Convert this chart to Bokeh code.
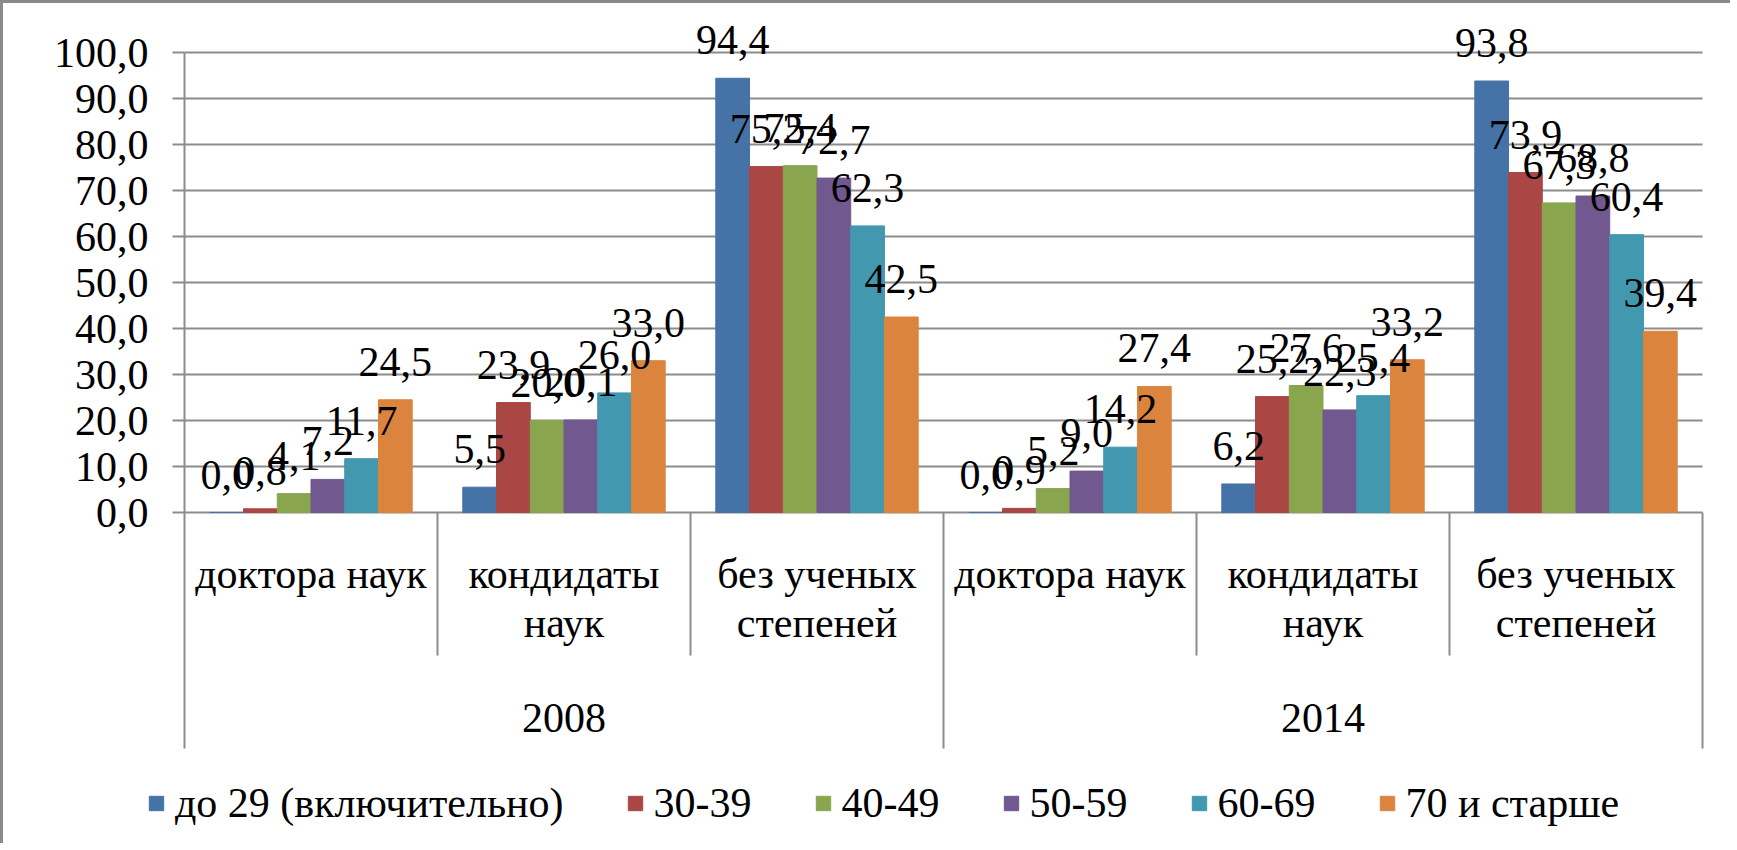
from bokeh.plotting import figure
from bokeh.models import Range1d, FixedTicker, Legend, LegendItem
from bokeh.embed import file_html
from bokeh.resources import INLINE
from bokeh.core.properties import value

# ---------------- data ----------------
years = ["2008", "2014"]
cat_line1 = ["доктора наук", "кондидаты", "без ученых", "доктора наук", "кондидаты", "без ученых"]
cat_line2 = ["", "наук", "степеней", "", "наук", "степеней"]
series_names = ["до 29 (включительно)", "30-39", "40-49", "50-59", "60-69", "70 и старше"]
s_upto29 = [0.0, 5.5, 94.4, 0.0, 6.2, 93.8]
s_30_39 = [0.8, 23.9, 75.2, 0.9, 25.2, 73.9]
s_40_49 = [4.1, 20.0, 75.4, 5.2, 27.6, 67.3]
s_50_59 = [7.2, 20.1, 72.7, 9.0, 22.3, 68.8]
s_60_69 = [11.7, 26.0, 62.3, 14.2, 25.4, 60.4]
s_70plus = [24.5, 33.0, 42.5, 27.4, 33.2, 39.4]
y_ticks = [0, 10, 20, 30, 40, 50, 60, 70, 80, 90, 100]
y_tick_labels = ["0,0", "10,0", "20,0", "30,0", "40,0", "50,0", "60,0", "70,0", "80,0", "90,0", "100,0"]

series = [s_upto29, s_30_39, s_40_49, s_50_59, s_60_69, s_70plus]
colors = ["#4572A7", "#AA4643", "#89A54E", "#71588F", "#4198AF", "#DB843D"]

FONT = "Liberation Serif"
FS = "42px"
GRID = "#8c8c8c"

# layout (page pixels)
W, H = 1730, 843
ORG = 3              # content origin after css border
X0_PX, CAT_PX = 184, 253
Y0_PX, PX = 512, 4.6

x_start = (ORG - X0_PX) / CAT_PX
x_end = x_start + W / CAT_PX
y_end = (Y0_PX - ORG) / PX
y_start = y_end - H / PX

p = figure(width=W, height=H, output_backend="svg", toolbar_location=None,
           x_axis_location=None, y_axis_location="left",
           x_range=Range1d(x_start, x_end), y_range=Range1d(y_start, y_end),
           min_border_left=0, min_border_right=0, min_border_top=0, min_border_bottom=0)
p.styles = {"border-left": "3px solid #8a8a8a", "border-top": "3px solid #8a8a8a"}
p.outline_line_color = None
p.background_fill_color = "white"
p.border_fill_color = "white"
p.xgrid.visible = False
p.ygrid.visible = False

AX_BOTTOM = -51.3
INNER_BOTTOM = -31.1

ax = p.yaxis[0]
ax.fixed_location = 0
ax.bounds = (AX_BOTTOM, 100)
ax.ticker = FixedTicker(ticks=y_ticks)
ax.major_label_overrides = {t: l for t, l in zip(y_ticks, y_tick_labels)}
ax.axis_line_color = GRID
ax.axis_line_width = 2
ax.major_tick_line_color = GRID
ax.major_tick_line_width = 2
ax.major_tick_out = 12
ax.major_tick_in = 0
ax.minor_tick_line_color = None
ax.major_label_standoff = 24
ax.major_label_text_font = FONT
ax.major_label_text_font_size = FS
ax.major_label_text_color = "black"

n_cat = len(cat_line1)

# horizontal gridlines from the tick list
p.segment(x0=[0] * len(y_ticks), y0=y_ticks, x1=[n_cat] * len(y_ticks), y1=y_ticks,
          line_color=GRID, line_width=2)

# category separators
outer = [3, 6]
inner = [1, 2, 4, 5]
p.segment(x0=outer, y0=[0] * len(outer), x1=outer, y1=[AX_BOTTOM] * len(outer), line_color=GRID, line_width=2)
p.segment(x0=inner, y0=[0] * len(inner), x1=inner, y1=[INNER_BOTTOM] * len(inner), line_color=GRID, line_width=2)

# bars
group = 0.8
bw = group / len(series)
renderers = []
for j, (vals, col) in enumerate(zip(series, colors)):
    xs = [i + 0.5 + (j - 2.5) * bw for i in range(n_cat)]
    r = p.vbar(x=xs, top=vals, bottom=0, width=bw, fill_color=col, line_color=col, line_width=1)
    renderers.append(r)

# data labels
for j, vals in enumerate(series):
    xs = [i + 0.5 + (j - 2.5) * bw for i in range(n_cat)]
    labels = [f"{v:.1f}".replace(".", ",") for v in vals]
    p.text(x=xs, y=vals, text=labels, text_align="center", text_baseline="middle",
           y_offset=-38, text_font=value(FONT), text_font_size=FS, text_color="black")

# category labels
cx = [i + 0.5 for i in range(n_cat)]
p.text(x=cx, y=[-(573 - Y0_PX) / PX] * n_cat, text=cat_line1, text_align="center", text_baseline="middle",
       text_font=value(FONT), text_font_size=FS, text_color="black")
p.text(x=cx, y=[-(622 - Y0_PX) / PX] * n_cat, text=cat_line2, text_align="center", text_baseline="middle",
       text_font=value(FONT), text_font_size=FS, text_color="black")
# year labels
p.text(x=[1.5, 4.5], y=[-(717 - Y0_PX) / PX] * 2, text=years, text_align="center", text_baseline="middle",
       text_font=value(FONT), text_font_size=FS, text_color="black")

legend = Legend(items=[LegendItem(label=n, renderers=[r]) for n, r in zip(series_names, renderers)],
                orientation="horizontal", location=(147 - ORG, 19),
                label_text_font=FONT, label_text_font_size=FS, label_text_color="black",
                glyph_width=18, glyph_height=18, label_standoff=10, spacing=62,
                padding=0, margin=0, border_line_color=None, background_fill_alpha=0)
p.add_layout(legend, "center")

open("out.html", "w").write(file_html(p, INLINE))
